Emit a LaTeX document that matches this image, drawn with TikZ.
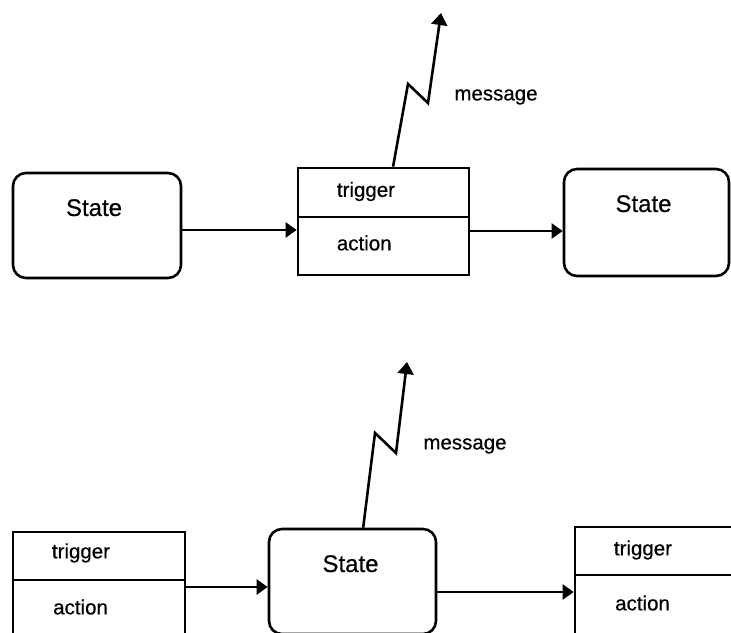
\documentclass[tikz,border=0pt]{standalone}
\usepackage{fontspec}
\setmainfont{Liberation Sans}
\newfontfamily\lblfont[FakeBold=0.5]{Liberation Sans}
\usetikzlibrary{arrows.meta,calc}
\begin{document}
\begin{tikzpicture}[x=1pt,y=-1pt,
  statebox/.style={draw, line width=2.6pt, rounded corners=13pt, inner sep=0pt},
  partbox/.style={draw, line width=2.6pt, inner sep=0pt},
  lbl/.style={font=\lblfont\fontsize{20.5}{24}\selectfont, inner sep=0pt},
  stlbl/.style={font=\lblfont\fontsize{24}{28}\selectfont, inner sep=0pt},
  arr/.style={line width=2.2pt, -{Triangle[length=11pt,width=15pt]}},
  bolt/.style={line width=2.6pt, line join=miter, -{Triangle[length=12pt,width=16pt]}}
]
\useasboundingbox (0,0) rectangle (731,632);
\clip (0,0) rectangle (731,632);

% ---------- top row ----------
\node[statebox, minimum width=168pt, minimum height=105pt] (s1) at (97,225.5) {};
\node[stlbl] (s1l) at ($(s1.north)+(-3,36)$) {State};

\node[partbox, minimum width=171pt, minimum height=49pt] (t1a) at (383.5,192.5) {};
\node[partbox, minimum width=171pt, minimum height=58pt] (t1b) at (383.5,246) {};
\node[lbl, anchor=west] (t1al) at ($(t1a.west)+(40,-1)$) {trigger};
\node[lbl, anchor=west] (t1bl) at ($(t1b.west)+(40,-3)$) {action};

\node[statebox, minimum width=165pt, minimum height=107pt] (s2) at (646.5,222.5) {};
\node[stlbl] (s2l) at ($(s2.north)+(-3,36)$) {State};

\draw[arr] (s1.east |- 0,230) -- (t1b.west |- 0,230);
\draw[arr] (t1b.east |- 0,231) -- (s2.west |- 0,231);

\coordinate (m1) at (441,13);
\draw[bolt] ($(t1a.north west)!0.555!(t1a.north east)$) -- (408,84) -- (428,103) -- (m1);
\node[lbl] (msg1) at (496,97) {message};

% ---------- bottom row ----------
\node[partbox, minimum width=172pt, minimum height=48pt] (b1a) at (99,556) {};
\node[partbox, minimum width=172pt, minimum height=70pt] (b1b) at (99,615) {};
\node[lbl, anchor=west] (b1al) at ($(b1a.west)+(40,-3)$) {trigger};
\node[lbl, anchor=west] (b1bl) at (53,607) {action};

\node[statebox, minimum width=167pt, minimum height=105pt] (s3) at (352.5,581.5) {};
\node[stlbl] (s3l) at ($(s3.north)+(-2,36)$) {State};

\node[partbox, minimum width=195pt, minimum height=48pt] (b2a) at (672.5,551) {};
\node[partbox, minimum width=195pt, minimum height=75pt] (b2b) at (672.5,612.5) {};
\node[lbl, anchor=west] (b2al) at ($(b2a.west)+(40,-1)$) {trigger};
\node[lbl, anchor=west] (b2bl) at (615,603) {action};

\draw[arr] (b1b.east |- 0,587) -- (s3.west |- 0,587);
\draw[arr] (s3.east |- 0,592) -- (b2b.west |- 0,592);

\coordinate (m2) at (407,362);
\draw[bolt] ($(s3.north west)!0.563!(s3.north east)$) -- (375,433) -- (396,453) -- (m2);
\node[lbl] (msg2) at (465,446) {message};
\end{tikzpicture}
\end{document}
